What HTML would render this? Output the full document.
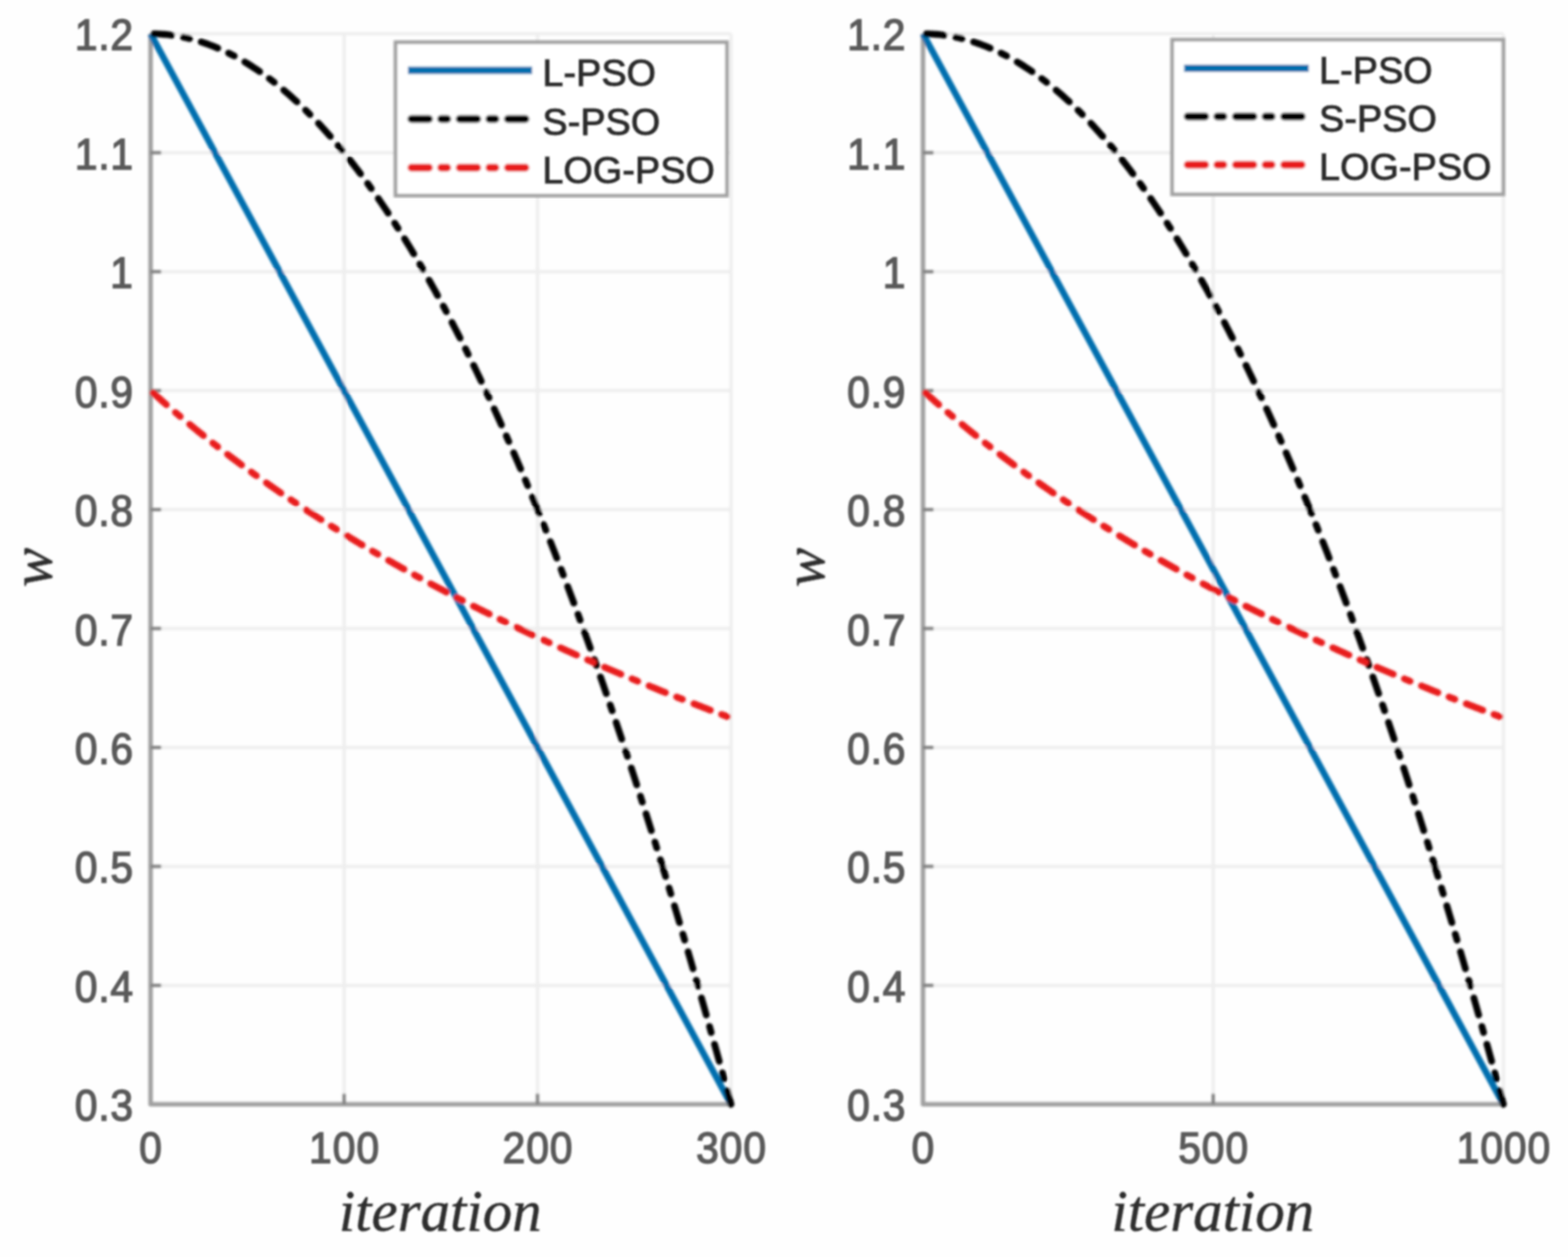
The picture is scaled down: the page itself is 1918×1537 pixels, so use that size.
<!DOCTYPE html>
<html><head><meta charset="utf-8"><title>Inertia weight w versus iteration</title>
<style>
html,body{margin:0;padding:0;background:#fefefe;}
svg{display:block;}
.tl{font-family:"Liberation Sans",Arial,Helvetica,sans-serif;font-size:52px;fill:#5a5a5a;stroke:#5a5a5a;stroke-width:1.6px;}
.lg{font-family:"Liberation Sans",Arial,Helvetica,sans-serif;font-size:46px;letter-spacing:0.2px;fill:#2b2b2b;stroke:#2b2b2b;stroke-width:1.1px;}
.lb{font-family:"Liberation Serif","Times New Roman",serif;font-style:italic;font-size:72px;fill:#2e2e2e;stroke:#2e2e2e;stroke-width:0.5px;}
</style></head><body>
<svg width="1918" height="1537" viewBox="0 0 1918 1537">
<defs><filter id="bg" x="-2%" y="-2%" width="104%" height="104%"><feGaussianBlur stdDeviation="1.6"/></filter><filter id="bt" x="-10%" y="-10%" width="120%" height="120%"><feGaussianBlur stdDeviation="1.3"/></filter></defs>
<rect x="0" y="0" width="1918" height="1537" fill="#fefefe"/>
<g filter="url(#bg)">
<g stroke="#eeeeee" stroke-width="4" fill="none"><line x1="184.2" y1="1350.3" x2="894.2" y2="1350.3"/><line x1="184.2" y1="1204.9" x2="894.2" y2="1204.9"/><line x1="184.2" y1="1059.4" x2="894.2" y2="1059.4"/><line x1="184.2" y1="914.0" x2="894.2" y2="914.0"/><line x1="184.2" y1="768.5" x2="894.2" y2="768.5"/><line x1="184.2" y1="623.1" x2="894.2" y2="623.1"/><line x1="184.2" y1="477.6" x2="894.2" y2="477.6"/><line x1="184.2" y1="332.2" x2="894.2" y2="332.2"/><line x1="184.2" y1="186.7" x2="894.2" y2="186.7"/><line x1="184.2" y1="41.3" x2="894.2" y2="41.3"/><line x1="184.2" y1="41.3" x2="184.2" y2="1350.3"/><line x1="420.9" y1="41.3" x2="420.9" y2="1350.3"/><line x1="657.5" y1="41.3" x2="657.5" y2="1350.3"/><line x1="894.2" y1="41.3" x2="894.2" y2="1350.3"/></g>
<path d="M184.2,41.3 L184.2,1350.3 L896.2,1350.3" fill="none" stroke="#a0a0a0" stroke-width="5.5" stroke-linejoin="round"/>
<g stroke="#808080" stroke-width="4"><line x1="184.2" y1="1204.9" x2="197.2" y2="1204.9"/><line x1="184.2" y1="1059.4" x2="197.2" y2="1059.4"/><line x1="184.2" y1="914.0" x2="197.2" y2="914.0"/><line x1="184.2" y1="768.5" x2="197.2" y2="768.5"/><line x1="184.2" y1="623.1" x2="197.2" y2="623.1"/><line x1="184.2" y1="477.6" x2="197.2" y2="477.6"/><line x1="184.2" y1="332.2" x2="197.2" y2="332.2"/><line x1="184.2" y1="186.7" x2="197.2" y2="186.7"/><line x1="420.9" y1="1350.3" x2="420.9" y2="1337.3"/><line x1="657.5" y1="1350.3" x2="657.5" y2="1337.3"/></g>
<path d="M184.20,41.30 L539.20,695.80 L894.20,1350.30" fill="none" stroke="#006eae" stroke-width="8" stroke-linejoin="round"/>
<path d="M184.20,41.30 L186.57,41.31 L188.93,41.36 L191.30,41.43 L193.67,41.53 L196.03,41.66 L198.40,41.82 L200.77,42.01 L203.13,42.23 L205.50,42.48 L207.87,42.75 L210.23,43.06 L212.60,43.39 L214.97,43.76 L217.33,44.15 L219.70,44.57 L222.07,45.02 L224.43,45.50 L226.80,46.01 L229.17,46.55 L231.53,47.12 L233.90,47.71 L236.27,48.34 L238.63,48.99 L241.00,49.68 L243.37,50.39 L245.73,51.13 L248.10,51.90 L250.47,52.70 L252.83,53.53 L255.20,54.39 L257.57,55.28 L259.93,56.19 L262.30,57.14 L264.67,58.11 L267.03,59.12 L269.40,60.15 L271.77,61.21 L274.13,62.30 L276.50,63.42 L278.87,64.57 L281.23,65.75 L283.60,66.96 L285.97,68.19 L288.33,69.46 L290.70,70.75 L293.07,72.08 L295.43,73.43 L297.80,74.81 L300.17,76.22 L302.53,77.66 L304.90,79.13 L307.27,80.63 L309.63,82.16 L312.00,83.71 L314.37,85.30 L316.73,86.91 L319.10,88.55 L321.47,90.23 L323.83,91.93 L326.20,93.66 L328.57,95.42 L330.93,97.21 L333.30,99.03 L335.67,100.87 L338.03,102.75 L340.40,104.66 L342.77,106.59 L345.13,108.55 L347.50,110.55 L349.87,112.57 L352.23,114.62 L354.60,116.70 L356.97,118.81 L359.33,120.95 L361.70,123.11 L364.07,125.31 L366.43,127.53 L368.80,129.79 L371.17,132.07 L373.53,134.38 L375.90,136.73 L378.27,139.10 L380.63,141.50 L383.00,143.93 L385.37,146.38 L387.73,148.87 L390.10,151.39 L392.47,153.93 L394.83,156.51 L397.20,159.11 L399.57,161.74 L401.93,164.40 L404.30,167.09 L406.67,169.81 L409.03,172.56 L411.40,175.34 L413.77,178.15 L416.13,180.98 L418.50,183.85 L420.87,186.74 L423.23,189.67 L425.60,192.62 L427.97,195.60 L430.33,198.61 L432.70,201.65 L435.07,204.72 L437.43,207.82 L439.80,210.95 L442.17,214.10 L444.53,217.29 L446.90,220.50 L449.27,223.75 L451.63,227.02 L454.00,230.32 L456.37,233.65 L458.73,237.01 L461.10,240.40 L463.47,243.82 L465.83,247.26 L468.20,250.74 L470.57,254.25 L472.93,257.78 L475.30,261.34 L477.67,264.94 L480.03,268.56 L482.40,272.21 L484.77,275.89 L487.13,279.60 L489.50,283.33 L491.87,287.10 L494.23,290.90 L496.60,294.72 L498.97,298.58 L501.33,302.46 L503.70,306.37 L506.07,310.31 L508.43,314.28 L510.80,318.28 L513.17,322.31 L515.53,326.37 L517.90,330.46 L520.27,334.57 L522.63,338.72 L525.00,342.89 L527.37,347.10 L529.73,351.33 L532.10,355.59 L534.47,359.88 L536.83,364.20 L539.20,368.55 L541.57,372.93 L543.93,377.33 L546.30,381.77 L548.67,386.24 L551.03,390.73 L553.40,395.25 L555.77,399.81 L558.13,404.39 L560.50,409.00 L562.87,413.64 L565.23,418.31 L567.60,423.00 L569.97,427.73 L572.33,432.49 L574.70,437.27 L577.07,442.09 L579.43,446.93 L581.80,451.80 L584.17,456.70 L586.53,461.63 L588.90,466.59 L591.27,471.58 L593.63,476.60 L596.00,481.65 L598.37,486.72 L600.73,491.83 L603.10,496.96 L605.47,502.13 L607.83,507.32 L610.20,512.54 L612.57,517.79 L614.93,523.07 L617.30,528.38 L619.67,533.72 L622.03,539.08 L624.40,544.48 L626.77,549.90 L629.13,555.36 L631.50,560.84 L633.87,566.35 L636.23,571.90 L638.60,577.47 L640.97,583.07 L643.33,588.69 L645.70,594.35 L648.07,600.04 L650.43,605.76 L652.80,611.50 L655.17,617.27 L657.53,623.08 L659.90,628.91 L662.27,634.77 L664.63,640.66 L667.00,646.58 L669.37,652.53 L671.73,658.51 L674.10,664.51 L676.47,670.55 L678.83,676.62 L681.20,682.71 L683.57,688.83 L685.93,694.99 L688.30,701.17 L690.67,707.38 L693.03,713.62 L695.40,719.89 L697.77,726.18 L700.13,732.51 L702.50,738.87 L704.87,745.25 L707.23,751.67 L709.60,758.11 L711.97,764.58 L714.33,771.08 L716.70,777.61 L719.07,784.17 L721.43,790.76 L723.80,797.38 L726.17,804.03 L728.53,810.70 L730.90,817.41 L733.27,824.14 L735.63,830.90 L738.00,837.70 L740.37,844.52 L742.73,851.37 L745.10,858.25 L747.47,865.16 L749.83,872.09 L752.20,879.06 L754.57,886.06 L756.93,893.08 L759.30,900.13 L761.67,907.22 L764.03,914.33 L766.40,921.47 L768.77,928.64 L771.13,935.84 L773.50,943.07 L775.87,950.33 L778.23,957.61 L780.60,964.93 L782.97,972.28 L785.33,979.65 L787.70,987.05 L790.07,994.48 L792.43,1001.95 L794.80,1009.44 L797.17,1016.96 L799.53,1024.50 L801.90,1032.08 L804.27,1039.69 L806.63,1047.32 L809.00,1054.99 L811.37,1062.68 L813.73,1070.41 L816.10,1078.16 L818.47,1085.94 L820.83,1093.75 L823.20,1101.59 L825.57,1109.46 L827.93,1117.36 L830.30,1125.28 L832.67,1133.24 L835.03,1141.22 L837.40,1149.24 L839.77,1157.28 L842.13,1165.35 L844.50,1173.45 L846.87,1181.58 L849.23,1189.74 L851.60,1197.93 L853.97,1206.15 L856.33,1214.40 L858.70,1222.67 L861.07,1230.98 L863.43,1239.31 L865.80,1247.67 L868.17,1256.07 L870.53,1264.49 L872.90,1272.94 L875.27,1281.42 L877.63,1289.93 L880.00,1298.46 L882.37,1307.03 L884.73,1315.63 L887.10,1324.25 L889.47,1332.90 L891.83,1341.59 L894.20,1350.30" fill="none" stroke="#000000" stroke-width="8.3" stroke-dasharray="21.7 14.55 7.7 14.85" stroke-dashoffset="-4.15" stroke-linecap="round" stroke-linejoin="round"/>
<path d="M184.20,477.63 L186.57,479.77 L188.93,481.89 L191.30,484.00 L193.67,486.11 L196.03,488.20 L198.40,490.29 L200.77,492.36 L203.13,494.43 L205.50,496.49 L207.87,498.53 L210.23,500.57 L212.60,502.60 L214.97,504.62 L217.33,506.63 L219.70,508.63 L222.07,510.63 L224.43,512.61 L226.80,514.59 L229.17,516.56 L231.53,518.52 L233.90,520.47 L236.27,522.41 L238.63,524.34 L241.00,526.27 L243.37,528.19 L245.73,530.10 L248.10,532.00 L250.47,533.89 L252.83,535.78 L255.20,537.66 L257.57,539.53 L259.93,541.39 L262.30,543.25 L264.67,545.09 L267.03,546.93 L269.40,548.77 L271.77,550.59 L274.13,552.41 L276.50,554.22 L278.87,556.03 L281.23,557.82 L283.60,559.61 L285.97,561.39 L288.33,563.17 L290.70,564.94 L293.07,566.70 L295.43,568.46 L297.80,570.20 L300.17,571.95 L302.53,573.68 L304.90,575.41 L307.27,577.13 L309.63,578.85 L312.00,580.56 L314.37,582.26 L316.73,583.96 L319.10,585.65 L321.47,587.33 L323.83,589.01 L326.20,590.68 L328.57,592.34 L330.93,594.00 L333.30,595.66 L335.67,597.30 L338.03,598.94 L340.40,600.58 L342.77,602.21 L345.13,603.83 L347.50,605.45 L349.87,607.06 L352.23,608.67 L354.60,610.27 L356.97,611.86 L359.33,613.45 L361.70,615.04 L364.07,616.62 L366.43,618.19 L368.80,619.76 L371.17,621.32 L373.53,622.88 L375.90,624.43 L378.27,625.98 L380.63,627.52 L383.00,629.05 L385.37,630.58 L387.73,632.11 L390.10,633.63 L392.47,635.14 L394.83,636.66 L397.20,638.16 L399.57,639.66 L401.93,641.16 L404.30,642.65 L406.67,644.13 L409.03,645.61 L411.40,647.09 L413.77,648.56 L416.13,650.03 L418.50,651.49 L420.87,652.95 L423.23,654.40 L425.60,655.85 L427.97,657.29 L430.33,658.73 L432.70,660.16 L435.07,661.59 L437.43,663.02 L439.80,664.44 L442.17,665.86 L444.53,667.27 L446.90,668.68 L449.27,670.08 L451.63,671.48 L454.00,672.87 L456.37,674.26 L458.73,675.65 L461.10,677.03 L463.47,678.41 L465.83,679.78 L468.20,681.15 L470.57,682.52 L472.93,683.88 L475.30,685.24 L477.67,686.59 L480.03,687.94 L482.40,689.29 L484.77,690.63 L487.13,691.96 L489.50,693.30 L491.87,694.63 L494.23,695.95 L496.60,697.27 L498.97,698.59 L501.33,699.91 L503.70,701.22 L506.07,702.52 L508.43,703.83 L510.80,705.13 L513.17,706.42 L515.53,707.71 L517.90,709.00 L520.27,710.29 L522.63,711.57 L525.00,712.84 L527.37,714.12 L529.73,715.39 L532.10,716.65 L534.47,717.92 L536.83,719.18 L539.20,720.43 L541.57,721.69 L543.93,722.94 L546.30,724.18 L548.67,725.42 L551.03,726.66 L553.40,727.90 L555.77,729.13 L558.13,730.36 L560.50,731.59 L562.87,732.81 L565.23,734.03 L567.60,735.24 L569.97,736.45 L572.33,737.66 L574.70,738.87 L577.07,740.07 L579.43,741.27 L581.80,742.47 L584.17,743.66 L586.53,744.85 L588.90,746.04 L591.27,747.23 L593.63,748.41 L596.00,749.58 L598.37,750.76 L600.73,751.93 L603.10,753.10 L605.47,754.27 L607.83,755.43 L610.20,756.59 L612.57,757.75 L614.93,758.90 L617.30,760.05 L619.67,761.20 L622.03,762.35 L624.40,763.49 L626.77,764.63 L629.13,765.77 L631.50,766.90 L633.87,768.03 L636.23,769.16 L638.60,770.28 L640.97,771.41 L643.33,772.53 L645.70,773.64 L648.07,774.76 L650.43,775.87 L652.80,776.98 L655.17,778.09 L657.53,779.19 L659.90,780.29 L662.27,781.39 L664.63,782.49 L667.00,783.58 L669.37,784.67 L671.73,785.76 L674.10,786.84 L676.47,787.93 L678.83,789.01 L681.20,790.08 L683.57,791.16 L685.93,792.23 L688.30,793.30 L690.67,794.37 L693.03,795.43 L695.40,796.50 L697.77,797.56 L700.13,798.61 L702.50,799.67 L704.87,800.72 L707.23,801.77 L709.60,802.82 L711.97,803.87 L714.33,804.91 L716.70,805.95 L719.07,806.99 L721.43,808.02 L723.80,809.06 L726.17,810.09 L728.53,811.12 L730.90,812.14 L733.27,813.17 L735.63,814.19 L738.00,815.21 L740.37,816.23 L742.73,817.24 L745.10,818.26 L747.47,819.27 L749.83,820.27 L752.20,821.28 L754.57,822.28 L756.93,823.29 L759.30,824.29 L761.67,825.28 L764.03,826.28 L766.40,827.27 L768.77,828.26 L771.13,829.25 L773.50,830.24 L775.87,831.22 L778.23,832.20 L780.60,833.18 L782.97,834.16 L785.33,835.14 L787.70,836.11 L790.07,837.08 L792.43,838.05 L794.80,839.02 L797.17,839.99 L799.53,840.95 L801.90,841.91 L804.27,842.87 L806.63,843.83 L809.00,844.78 L811.37,845.74 L813.73,846.69 L816.10,847.64 L818.47,848.59 L820.83,849.53 L823.20,850.48 L825.57,851.42 L827.93,852.36 L830.30,853.29 L832.67,854.23 L835.03,855.16 L837.40,856.10 L839.77,857.03 L842.13,857.95 L844.50,858.88 L846.87,859.80 L849.23,860.73 L851.60,861.65 L853.97,862.57 L856.33,863.48 L858.70,864.40 L861.07,865.31 L863.43,866.22 L865.80,867.13 L868.17,868.04 L870.53,868.95 L872.90,869.85 L875.27,870.75 L877.63,871.65 L880.00,872.55 L882.37,873.45 L884.73,874.35 L887.10,875.24 L889.47,876.13 L891.83,877.02 L894.20,877.91" fill="none" stroke="#e81a1c" stroke-width="8.3" stroke-dasharray="21.7 14.6 7.7 15.0" stroke-dashoffset="-4.15" stroke-linecap="round" stroke-linejoin="round"/>
</g>
<g filter="url(#bt)">
<g class="tl"><text transform="translate(91.49,1370.30) scale(0.96,1.03)" letter-spacing="1.00">0.3</text><text transform="translate(91.49,1224.86) scale(0.96,1.03)" letter-spacing="1.00">0.4</text><text transform="translate(91.49,1079.41) scale(0.96,1.03)" letter-spacing="1.00">0.5</text><text transform="translate(91.49,933.97) scale(0.96,1.03)" letter-spacing="1.00">0.6</text><text transform="translate(91.49,788.52) scale(0.96,1.03)" letter-spacing="1.00">0.7</text><text transform="translate(91.49,643.08) scale(0.96,1.03)" letter-spacing="1.00">0.8</text><text transform="translate(91.49,497.63) scale(0.96,1.03)" letter-spacing="1.00">0.9</text><text transform="translate(134.86,352.19) scale(0.96,1.03)" letter-spacing="1.20">1</text><text transform="translate(91.49,206.74) scale(0.96,1.03)" letter-spacing="1.00">1.1</text><text transform="translate(91.49,61.30) scale(0.96,1.03)" letter-spacing="1.00">1.2</text><text transform="translate(170.32,1421.50) scale(0.96,1.03)" letter-spacing="1.20">0</text><text transform="translate(378.07,1421.50) scale(0.96,1.03)" letter-spacing="1.20">100</text><text transform="translate(614.73,1421.50) scale(0.96,1.03)" letter-spacing="1.20">200</text><text transform="translate(851.40,1421.50) scale(0.96,1.03)" letter-spacing="1.20">300</text></g>
<text class="lb" x="538.5" y="1505" text-anchor="middle">iteration</text>
<text class="lb" x="0" y="0" text-anchor="middle" transform="translate(63.0,693.8) rotate(-90)">w</text>
</g>
<g filter="url(#bg)">
<rect x="483.8" y="51.6" width="405.4" height="187.6" fill="#ffffff" stroke="#a0a0a0" stroke-width="4.5"/>
<line x1="499.0" y1="86.0" x2="651.0" y2="86.0" stroke="#006eae" stroke-width="9.2"/>
<line x1="499.0" y1="145.5" x2="651.0" y2="145.5" stroke="#000000" stroke-width="9.3" stroke-dasharray="21.7 14.6 7.7 15.0" stroke-dashoffset="-4.15" stroke-linecap="round"/>
<line x1="499.0" y1="205.0" x2="651.0" y2="205.0" stroke="#e81a1c" stroke-width="9.3" stroke-dasharray="21.7 14.6 7.7 15.0" stroke-dashoffset="-4.15" stroke-linecap="round"/>
</g>
<g filter="url(#bt)" class="lg">
<text x="663.5" y="105.0">L-PSO</text>
<text x="663.5" y="164.5">S-PSO</text>
<text x="663.5" y="224.0">LOG-PSO</text>
</g>
<g filter="url(#bg)">
<g stroke="#eeeeee" stroke-width="4" fill="none"><line x1="1129.0" y1="1350.3" x2="1839.0" y2="1350.3"/><line x1="1129.0" y1="1204.9" x2="1839.0" y2="1204.9"/><line x1="1129.0" y1="1059.4" x2="1839.0" y2="1059.4"/><line x1="1129.0" y1="914.0" x2="1839.0" y2="914.0"/><line x1="1129.0" y1="768.5" x2="1839.0" y2="768.5"/><line x1="1129.0" y1="623.1" x2="1839.0" y2="623.1"/><line x1="1129.0" y1="477.6" x2="1839.0" y2="477.6"/><line x1="1129.0" y1="332.2" x2="1839.0" y2="332.2"/><line x1="1129.0" y1="186.7" x2="1839.0" y2="186.7"/><line x1="1129.0" y1="41.3" x2="1839.0" y2="41.3"/><line x1="1129.0" y1="41.3" x2="1129.0" y2="1350.3"/><line x1="1484.0" y1="41.3" x2="1484.0" y2="1350.3"/><line x1="1839.0" y1="41.3" x2="1839.0" y2="1350.3"/></g>
<path d="M1129.0,41.3 L1129.0,1350.3 L1841.0,1350.3" fill="none" stroke="#a0a0a0" stroke-width="5.5" stroke-linejoin="round"/>
<g stroke="#808080" stroke-width="4"><line x1="1129.0" y1="1204.9" x2="1142.0" y2="1204.9"/><line x1="1129.0" y1="1059.4" x2="1142.0" y2="1059.4"/><line x1="1129.0" y1="914.0" x2="1142.0" y2="914.0"/><line x1="1129.0" y1="768.5" x2="1142.0" y2="768.5"/><line x1="1129.0" y1="623.1" x2="1142.0" y2="623.1"/><line x1="1129.0" y1="477.6" x2="1142.0" y2="477.6"/><line x1="1129.0" y1="332.2" x2="1142.0" y2="332.2"/><line x1="1129.0" y1="186.7" x2="1142.0" y2="186.7"/><line x1="1484.0" y1="1350.3" x2="1484.0" y2="1337.3"/></g>
<path d="M1129.00,41.30 L1484.00,695.80 L1839.00,1350.30" fill="none" stroke="#006eae" stroke-width="8" stroke-linejoin="round"/>
<path d="M1129.00,41.30 L1131.37,41.31 L1133.73,41.36 L1136.10,41.43 L1138.47,41.53 L1140.83,41.66 L1143.20,41.82 L1145.57,42.01 L1147.93,42.23 L1150.30,42.48 L1152.67,42.75 L1155.03,43.06 L1157.40,43.39 L1159.77,43.76 L1162.13,44.15 L1164.50,44.57 L1166.87,45.02 L1169.23,45.50 L1171.60,46.01 L1173.97,46.55 L1176.33,47.12 L1178.70,47.71 L1181.07,48.34 L1183.43,48.99 L1185.80,49.68 L1188.17,50.39 L1190.53,51.13 L1192.90,51.90 L1195.27,52.70 L1197.63,53.53 L1200.00,54.39 L1202.37,55.28 L1204.73,56.19 L1207.10,57.14 L1209.47,58.11 L1211.83,59.12 L1214.20,60.15 L1216.57,61.21 L1218.93,62.30 L1221.30,63.42 L1223.67,64.57 L1226.03,65.75 L1228.40,66.96 L1230.77,68.19 L1233.13,69.46 L1235.50,70.75 L1237.87,72.08 L1240.23,73.43 L1242.60,74.81 L1244.97,76.22 L1247.33,77.66 L1249.70,79.13 L1252.07,80.63 L1254.43,82.16 L1256.80,83.71 L1259.17,85.30 L1261.53,86.91 L1263.90,88.55 L1266.27,90.23 L1268.63,91.93 L1271.00,93.66 L1273.37,95.42 L1275.73,97.21 L1278.10,99.03 L1280.47,100.87 L1282.83,102.75 L1285.20,104.66 L1287.57,106.59 L1289.93,108.55 L1292.30,110.55 L1294.67,112.57 L1297.03,114.62 L1299.40,116.70 L1301.77,118.81 L1304.13,120.95 L1306.50,123.11 L1308.87,125.31 L1311.23,127.53 L1313.60,129.79 L1315.97,132.07 L1318.33,134.38 L1320.70,136.73 L1323.07,139.10 L1325.43,141.50 L1327.80,143.93 L1330.17,146.38 L1332.53,148.87 L1334.90,151.39 L1337.27,153.93 L1339.63,156.51 L1342.00,159.11 L1344.37,161.74 L1346.73,164.40 L1349.10,167.09 L1351.47,169.81 L1353.83,172.56 L1356.20,175.34 L1358.57,178.15 L1360.93,180.98 L1363.30,183.85 L1365.67,186.74 L1368.03,189.67 L1370.40,192.62 L1372.77,195.60 L1375.13,198.61 L1377.50,201.65 L1379.87,204.72 L1382.23,207.82 L1384.60,210.95 L1386.97,214.10 L1389.33,217.29 L1391.70,220.50 L1394.07,223.75 L1396.43,227.02 L1398.80,230.32 L1401.17,233.65 L1403.53,237.01 L1405.90,240.40 L1408.27,243.82 L1410.63,247.26 L1413.00,250.74 L1415.37,254.25 L1417.73,257.78 L1420.10,261.34 L1422.47,264.94 L1424.83,268.56 L1427.20,272.21 L1429.57,275.89 L1431.93,279.60 L1434.30,283.33 L1436.67,287.10 L1439.03,290.90 L1441.40,294.72 L1443.77,298.58 L1446.13,302.46 L1448.50,306.37 L1450.87,310.31 L1453.23,314.28 L1455.60,318.28 L1457.97,322.31 L1460.33,326.37 L1462.70,330.46 L1465.07,334.57 L1467.43,338.72 L1469.80,342.89 L1472.17,347.10 L1474.53,351.33 L1476.90,355.59 L1479.27,359.88 L1481.63,364.20 L1484.00,368.55 L1486.37,372.93 L1488.73,377.33 L1491.10,381.77 L1493.47,386.24 L1495.83,390.73 L1498.20,395.25 L1500.57,399.81 L1502.93,404.39 L1505.30,409.00 L1507.67,413.64 L1510.03,418.31 L1512.40,423.00 L1514.77,427.73 L1517.13,432.49 L1519.50,437.27 L1521.87,442.09 L1524.23,446.93 L1526.60,451.80 L1528.97,456.70 L1531.33,461.63 L1533.70,466.59 L1536.07,471.58 L1538.43,476.60 L1540.80,481.65 L1543.17,486.72 L1545.53,491.83 L1547.90,496.96 L1550.27,502.13 L1552.63,507.32 L1555.00,512.54 L1557.37,517.79 L1559.73,523.07 L1562.10,528.38 L1564.47,533.72 L1566.83,539.08 L1569.20,544.48 L1571.57,549.90 L1573.93,555.36 L1576.30,560.84 L1578.67,566.35 L1581.03,571.90 L1583.40,577.47 L1585.77,583.07 L1588.13,588.69 L1590.50,594.35 L1592.87,600.04 L1595.23,605.76 L1597.60,611.50 L1599.97,617.27 L1602.33,623.08 L1604.70,628.91 L1607.07,634.77 L1609.43,640.66 L1611.80,646.58 L1614.17,652.53 L1616.53,658.51 L1618.90,664.51 L1621.27,670.55 L1623.63,676.62 L1626.00,682.71 L1628.37,688.83 L1630.73,694.99 L1633.10,701.17 L1635.47,707.38 L1637.83,713.62 L1640.20,719.89 L1642.57,726.18 L1644.93,732.51 L1647.30,738.87 L1649.67,745.25 L1652.03,751.67 L1654.40,758.11 L1656.77,764.58 L1659.13,771.08 L1661.50,777.61 L1663.87,784.17 L1666.23,790.76 L1668.60,797.38 L1670.97,804.03 L1673.33,810.70 L1675.70,817.41 L1678.07,824.14 L1680.43,830.90 L1682.80,837.70 L1685.17,844.52 L1687.53,851.37 L1689.90,858.25 L1692.27,865.16 L1694.63,872.09 L1697.00,879.06 L1699.37,886.06 L1701.73,893.08 L1704.10,900.13 L1706.47,907.22 L1708.83,914.33 L1711.20,921.47 L1713.57,928.64 L1715.93,935.84 L1718.30,943.07 L1720.67,950.33 L1723.03,957.61 L1725.40,964.93 L1727.77,972.28 L1730.13,979.65 L1732.50,987.05 L1734.87,994.48 L1737.23,1001.95 L1739.60,1009.44 L1741.97,1016.96 L1744.33,1024.50 L1746.70,1032.08 L1749.07,1039.69 L1751.43,1047.32 L1753.80,1054.99 L1756.17,1062.68 L1758.53,1070.41 L1760.90,1078.16 L1763.27,1085.94 L1765.63,1093.75 L1768.00,1101.59 L1770.37,1109.46 L1772.73,1117.36 L1775.10,1125.28 L1777.47,1133.24 L1779.83,1141.22 L1782.20,1149.24 L1784.57,1157.28 L1786.93,1165.35 L1789.30,1173.45 L1791.67,1181.58 L1794.03,1189.74 L1796.40,1197.93 L1798.77,1206.15 L1801.13,1214.40 L1803.50,1222.67 L1805.87,1230.98 L1808.23,1239.31 L1810.60,1247.67 L1812.97,1256.07 L1815.33,1264.49 L1817.70,1272.94 L1820.07,1281.42 L1822.43,1289.93 L1824.80,1298.46 L1827.17,1307.03 L1829.53,1315.63 L1831.90,1324.25 L1834.27,1332.90 L1836.63,1341.59 L1839.00,1350.30" fill="none" stroke="#000000" stroke-width="8.3" stroke-dasharray="21.7 14.55 7.7 14.85" stroke-dashoffset="-4.15" stroke-linecap="round" stroke-linejoin="round"/>
<path d="M1129.00,477.63 L1131.37,479.77 L1133.73,481.89 L1136.10,484.00 L1138.47,486.11 L1140.83,488.20 L1143.20,490.29 L1145.57,492.36 L1147.93,494.43 L1150.30,496.49 L1152.67,498.53 L1155.03,500.57 L1157.40,502.60 L1159.77,504.62 L1162.13,506.63 L1164.50,508.63 L1166.87,510.63 L1169.23,512.61 L1171.60,514.59 L1173.97,516.56 L1176.33,518.52 L1178.70,520.47 L1181.07,522.41 L1183.43,524.34 L1185.80,526.27 L1188.17,528.19 L1190.53,530.10 L1192.90,532.00 L1195.27,533.89 L1197.63,535.78 L1200.00,537.66 L1202.37,539.53 L1204.73,541.39 L1207.10,543.25 L1209.47,545.09 L1211.83,546.93 L1214.20,548.77 L1216.57,550.59 L1218.93,552.41 L1221.30,554.22 L1223.67,556.03 L1226.03,557.82 L1228.40,559.61 L1230.77,561.39 L1233.13,563.17 L1235.50,564.94 L1237.87,566.70 L1240.23,568.46 L1242.60,570.20 L1244.97,571.95 L1247.33,573.68 L1249.70,575.41 L1252.07,577.13 L1254.43,578.85 L1256.80,580.56 L1259.17,582.26 L1261.53,583.96 L1263.90,585.65 L1266.27,587.33 L1268.63,589.01 L1271.00,590.68 L1273.37,592.34 L1275.73,594.00 L1278.10,595.66 L1280.47,597.30 L1282.83,598.94 L1285.20,600.58 L1287.57,602.21 L1289.93,603.83 L1292.30,605.45 L1294.67,607.06 L1297.03,608.67 L1299.40,610.27 L1301.77,611.86 L1304.13,613.45 L1306.50,615.04 L1308.87,616.62 L1311.23,618.19 L1313.60,619.76 L1315.97,621.32 L1318.33,622.88 L1320.70,624.43 L1323.07,625.98 L1325.43,627.52 L1327.80,629.05 L1330.17,630.58 L1332.53,632.11 L1334.90,633.63 L1337.27,635.14 L1339.63,636.66 L1342.00,638.16 L1344.37,639.66 L1346.73,641.16 L1349.10,642.65 L1351.47,644.13 L1353.83,645.61 L1356.20,647.09 L1358.57,648.56 L1360.93,650.03 L1363.30,651.49 L1365.67,652.95 L1368.03,654.40 L1370.40,655.85 L1372.77,657.29 L1375.13,658.73 L1377.50,660.16 L1379.87,661.59 L1382.23,663.02 L1384.60,664.44 L1386.97,665.86 L1389.33,667.27 L1391.70,668.68 L1394.07,670.08 L1396.43,671.48 L1398.80,672.87 L1401.17,674.26 L1403.53,675.65 L1405.90,677.03 L1408.27,678.41 L1410.63,679.78 L1413.00,681.15 L1415.37,682.52 L1417.73,683.88 L1420.10,685.24 L1422.47,686.59 L1424.83,687.94 L1427.20,689.29 L1429.57,690.63 L1431.93,691.96 L1434.30,693.30 L1436.67,694.63 L1439.03,695.95 L1441.40,697.27 L1443.77,698.59 L1446.13,699.91 L1448.50,701.22 L1450.87,702.52 L1453.23,703.83 L1455.60,705.13 L1457.97,706.42 L1460.33,707.71 L1462.70,709.00 L1465.07,710.29 L1467.43,711.57 L1469.80,712.84 L1472.17,714.12 L1474.53,715.39 L1476.90,716.65 L1479.27,717.92 L1481.63,719.18 L1484.00,720.43 L1486.37,721.69 L1488.73,722.94 L1491.10,724.18 L1493.47,725.42 L1495.83,726.66 L1498.20,727.90 L1500.57,729.13 L1502.93,730.36 L1505.30,731.59 L1507.67,732.81 L1510.03,734.03 L1512.40,735.24 L1514.77,736.45 L1517.13,737.66 L1519.50,738.87 L1521.87,740.07 L1524.23,741.27 L1526.60,742.47 L1528.97,743.66 L1531.33,744.85 L1533.70,746.04 L1536.07,747.23 L1538.43,748.41 L1540.80,749.58 L1543.17,750.76 L1545.53,751.93 L1547.90,753.10 L1550.27,754.27 L1552.63,755.43 L1555.00,756.59 L1557.37,757.75 L1559.73,758.90 L1562.10,760.05 L1564.47,761.20 L1566.83,762.35 L1569.20,763.49 L1571.57,764.63 L1573.93,765.77 L1576.30,766.90 L1578.67,768.03 L1581.03,769.16 L1583.40,770.28 L1585.77,771.41 L1588.13,772.53 L1590.50,773.64 L1592.87,774.76 L1595.23,775.87 L1597.60,776.98 L1599.97,778.09 L1602.33,779.19 L1604.70,780.29 L1607.07,781.39 L1609.43,782.49 L1611.80,783.58 L1614.17,784.67 L1616.53,785.76 L1618.90,786.84 L1621.27,787.93 L1623.63,789.01 L1626.00,790.08 L1628.37,791.16 L1630.73,792.23 L1633.10,793.30 L1635.47,794.37 L1637.83,795.43 L1640.20,796.50 L1642.57,797.56 L1644.93,798.61 L1647.30,799.67 L1649.67,800.72 L1652.03,801.77 L1654.40,802.82 L1656.77,803.87 L1659.13,804.91 L1661.50,805.95 L1663.87,806.99 L1666.23,808.02 L1668.60,809.06 L1670.97,810.09 L1673.33,811.12 L1675.70,812.14 L1678.07,813.17 L1680.43,814.19 L1682.80,815.21 L1685.17,816.23 L1687.53,817.24 L1689.90,818.26 L1692.27,819.27 L1694.63,820.27 L1697.00,821.28 L1699.37,822.28 L1701.73,823.29 L1704.10,824.29 L1706.47,825.28 L1708.83,826.28 L1711.20,827.27 L1713.57,828.26 L1715.93,829.25 L1718.30,830.24 L1720.67,831.22 L1723.03,832.20 L1725.40,833.18 L1727.77,834.16 L1730.13,835.14 L1732.50,836.11 L1734.87,837.08 L1737.23,838.05 L1739.60,839.02 L1741.97,839.99 L1744.33,840.95 L1746.70,841.91 L1749.07,842.87 L1751.43,843.83 L1753.80,844.78 L1756.17,845.74 L1758.53,846.69 L1760.90,847.64 L1763.27,848.59 L1765.63,849.53 L1768.00,850.48 L1770.37,851.42 L1772.73,852.36 L1775.10,853.29 L1777.47,854.23 L1779.83,855.16 L1782.20,856.10 L1784.57,857.03 L1786.93,857.95 L1789.30,858.88 L1791.67,859.80 L1794.03,860.73 L1796.40,861.65 L1798.77,862.57 L1801.13,863.48 L1803.50,864.40 L1805.87,865.31 L1808.23,866.22 L1810.60,867.13 L1812.97,868.04 L1815.33,868.95 L1817.70,869.85 L1820.07,870.75 L1822.43,871.65 L1824.80,872.55 L1827.17,873.45 L1829.53,874.35 L1831.90,875.24 L1834.27,876.13 L1836.63,877.02 L1839.00,877.91" fill="none" stroke="#e81a1c" stroke-width="8.3" stroke-dasharray="21.7 14.6 7.7 15.0" stroke-dashoffset="-4.15" stroke-linecap="round" stroke-linejoin="round"/>
</g>
<g filter="url(#bt)">
<g class="tl"><text transform="translate(1036.29,1370.30) scale(0.96,1.03)" letter-spacing="1.00">0.3</text><text transform="translate(1036.29,1224.86) scale(0.96,1.03)" letter-spacing="1.00">0.4</text><text transform="translate(1036.29,1079.41) scale(0.96,1.03)" letter-spacing="1.00">0.5</text><text transform="translate(1036.29,933.97) scale(0.96,1.03)" letter-spacing="1.00">0.6</text><text transform="translate(1036.29,788.52) scale(0.96,1.03)" letter-spacing="1.00">0.7</text><text transform="translate(1036.29,643.08) scale(0.96,1.03)" letter-spacing="1.00">0.8</text><text transform="translate(1036.29,497.63) scale(0.96,1.03)" letter-spacing="1.00">0.9</text><text transform="translate(1079.66,352.19) scale(0.96,1.03)" letter-spacing="1.20">1</text><text transform="translate(1036.29,206.74) scale(0.96,1.03)" letter-spacing="1.00">1.1</text><text transform="translate(1036.29,61.30) scale(0.96,1.03)" letter-spacing="1.00">1.2</text><text transform="translate(1115.12,1421.50) scale(0.96,1.03)" letter-spacing="1.20">0</text><text transform="translate(1441.20,1421.50) scale(0.96,1.03)" letter-spacing="1.20">500</text><text transform="translate(1781.74,1421.50) scale(0.96,1.03)" letter-spacing="1.20">1000</text></g>
<text class="lb" x="1483.5" y="1505" text-anchor="middle">iteration</text>
<text class="lb" x="0" y="0" text-anchor="middle" transform="translate(1008.0,693.8) rotate(-90)">w</text>
</g>
<g filter="url(#bg)">
<rect x="1433.8" y="48.5" width="405.1" height="189.1" fill="#ffffff" stroke="#a0a0a0" stroke-width="4.5"/>
<line x1="1448.5" y1="83.5" x2="1601.0" y2="83.5" stroke="#006eae" stroke-width="9.2"/>
<line x1="1448.5" y1="142.5" x2="1601.0" y2="142.5" stroke="#000000" stroke-width="9.3" stroke-dasharray="21.7 14.6 7.7 15.0" stroke-dashoffset="-4.15" stroke-linecap="round"/>
<line x1="1448.5" y1="201.5" x2="1601.0" y2="201.5" stroke="#e81a1c" stroke-width="9.3" stroke-dasharray="21.7 14.6 7.7 15.0" stroke-dashoffset="-4.15" stroke-linecap="round"/>
</g>
<g filter="url(#bt)" class="lg">
<text x="1613.5" y="101.5">L-PSO</text>
<text x="1613.5" y="160.5">S-PSO</text>
<text x="1613.5" y="219.5">LOG-PSO</text>
</g>
</svg>
</body></html>
